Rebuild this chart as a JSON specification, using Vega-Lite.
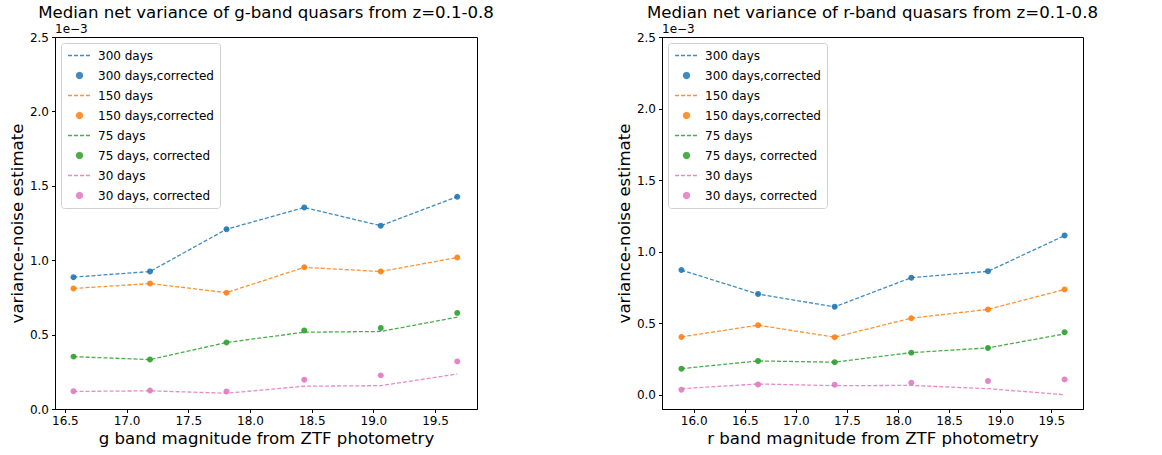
{
  "$schema": "https://vega.github.io/schema/vega-lite/v6.json",
  "padding": {"left": 8, "top": 4, "right": 5, "bottom": 5},
  "config": {
    "font": "DejaVu Sans",
    "view": {"stroke": "black", "strokeWidth": 1},
    "concat": {"spacing": 120},
    "title": {"fontSize": 16.6, "fontWeight": "normal", "color": "black", "offset": 1},
    "axis": {
      "grid": false, "labelFontSize": 12, "titleFontSize": 16.6, "titleFontWeight": "normal",
      "labelColor": "black", "titleColor": "black", "tickColor": "black", "domainColor": "black",
      "tickSize": 3.5, "labelPadding": 3, "titlePadding": 4
    },
    "legend": {
      "orient": "top-left", "offset": 6, "title": null, "labelFontSize": 12, "labelColor": "black",
      "strokeColor": "#d0d0d0", "fillColor": "white", "padding": 6, "cornerRadius": 3,
      "rowPadding": 7, "labelOffset": 12, "symbolStrokeWidth": 1.3, "symbolOffset": 6, "symbolSize": 132
    }
  },
  "data": {"values": [
    {"b":"g","m":16.57,"s":"300 days","v":0.000886},{"b":"g","m":17.19,"s":"300 days","v":0.000924},{"b":"g","m":17.81,"s":"300 days","v":0.001208},{"b":"g","m":18.44,"s":"300 days","v":0.001354},{"b":"g","m":19.06,"s":"300 days","v":0.001232},{"b":"g","m":19.68,"s":"300 days","v":0.001427},
    {"b":"g","m":16.57,"s":"300 days,corrected","v":0.000886},{"b":"g","m":17.19,"s":"300 days,corrected","v":0.000924},{"b":"g","m":17.81,"s":"300 days,corrected","v":0.001208},{"b":"g","m":18.44,"s":"300 days,corrected","v":0.001354},{"b":"g","m":19.06,"s":"300 days,corrected","v":0.001232},{"b":"g","m":19.68,"s":"300 days,corrected","v":0.001427},
    {"b":"g","m":16.57,"s":"150 days","v":0.000810},{"b":"g","m":17.19,"s":"150 days","v":0.000843},{"b":"g","m":17.81,"s":"150 days","v":0.000782},{"b":"g","m":18.44,"s":"150 days","v":0.000952},{"b":"g","m":19.06,"s":"150 days","v":0.000924},{"b":"g","m":19.68,"s":"150 days","v":0.001018},
    {"b":"g","m":16.57,"s":"150 days,corrected","v":0.000810},{"b":"g","m":17.19,"s":"150 days,corrected","v":0.000843},{"b":"g","m":17.81,"s":"150 days,corrected","v":0.000782},{"b":"g","m":18.44,"s":"150 days,corrected","v":0.000952},{"b":"g","m":19.06,"s":"150 days,corrected","v":0.000924},{"b":"g","m":19.68,"s":"150 days,corrected","v":0.001018},
    {"b":"g","m":16.57,"s":"75 days","v":0.000352},{"b":"g","m":17.19,"s":"75 days","v":0.000332},{"b":"g","m":17.81,"s":"75 days","v":0.000447},{"b":"g","m":18.44,"s":"75 days","v":0.000516},{"b":"g","m":19.06,"s":"75 days","v":0.000521},{"b":"g","m":19.68,"s":"75 days","v":0.000617},
    {"b":"g","m":16.57,"s":"75 days, corrected","v":0.000352},{"b":"g","m":17.19,"s":"75 days, corrected","v":0.000332},{"b":"g","m":17.81,"s":"75 days, corrected","v":0.000447},{"b":"g","m":18.44,"s":"75 days, corrected","v":0.000528},{"b":"g","m":19.06,"s":"75 days, corrected","v":0.000544},{"b":"g","m":19.68,"s":"75 days, corrected","v":0.000646},
    {"b":"g","m":16.57,"s":"30 days","v":0.000118},{"b":"g","m":17.19,"s":"30 days","v":0.000122},{"b":"g","m":17.81,"s":"30 days","v":0.000106},{"b":"g","m":18.44,"s":"30 days","v":0.000153},{"b":"g","m":19.06,"s":"30 days","v":0.000157},{"b":"g","m":19.68,"s":"30 days","v":0.000235},
    {"b":"g","m":16.57,"s":"30 days, corrected","v":0.000120},{"b":"g","m":17.19,"s":"30 days, corrected","v":0.000124},{"b":"g","m":17.81,"s":"30 days, corrected","v":0.000118},{"b":"g","m":18.44,"s":"30 days, corrected","v":0.000196},{"b":"g","m":19.06,"s":"30 days, corrected","v":0.000226},{"b":"g","m":19.68,"s":"30 days, corrected","v":0.000320},
    {"b":"r","m":15.88,"s":"300 days","v":0.000871},{"b":"r","m":16.63,"s":"300 days","v":0.000703},{"b":"r","m":17.38,"s":"300 days","v":0.000614},{"b":"r","m":18.13,"s":"300 days","v":0.000818},{"b":"r","m":18.88,"s":"300 days","v":0.000862},{"b":"r","m":19.63,"s":"300 days","v":0.001112},
    {"b":"r","m":15.88,"s":"300 days,corrected","v":0.000871},{"b":"r","m":16.63,"s":"300 days,corrected","v":0.000703},{"b":"r","m":17.38,"s":"300 days,corrected","v":0.000614},{"b":"r","m":18.13,"s":"300 days,corrected","v":0.000818},{"b":"r","m":18.88,"s":"300 days,corrected","v":0.000862},{"b":"r","m":19.63,"s":"300 days,corrected","v":0.001112},
    {"b":"r","m":15.88,"s":"150 days","v":0.000404},{"b":"r","m":16.63,"s":"150 days","v":0.000486},{"b":"r","m":17.38,"s":"150 days","v":0.000402},{"b":"r","m":18.13,"s":"150 days","v":0.000535},{"b":"r","m":18.88,"s":"150 days","v":0.000596},{"b":"r","m":19.63,"s":"150 days","v":0.000736},
    {"b":"r","m":15.88,"s":"150 days,corrected","v":0.000404},{"b":"r","m":16.63,"s":"150 days,corrected","v":0.000486},{"b":"r","m":17.38,"s":"150 days,corrected","v":0.000402},{"b":"r","m":18.13,"s":"150 days,corrected","v":0.000535},{"b":"r","m":18.88,"s":"150 days,corrected","v":0.000596},{"b":"r","m":19.63,"s":"150 days,corrected","v":0.000736},
    {"b":"r","m":15.88,"s":"75 days","v":0.000182},{"b":"r","m":16.63,"s":"75 days","v":0.000236},{"b":"r","m":17.38,"s":"75 days","v":0.000227},{"b":"r","m":18.13,"s":"75 days","v":0.000294},{"b":"r","m":18.88,"s":"75 days","v":0.000327},{"b":"r","m":19.63,"s":"75 days","v":0.000425},
    {"b":"r","m":15.88,"s":"75 days, corrected","v":0.000182},{"b":"r","m":16.63,"s":"75 days, corrected","v":0.000236},{"b":"r","m":17.38,"s":"75 days, corrected","v":0.000227},{"b":"r","m":18.13,"s":"75 days, corrected","v":0.000294},{"b":"r","m":18.88,"s":"75 days, corrected","v":0.000327},{"b":"r","m":19.63,"s":"75 days, corrected","v":0.000437},
    {"b":"r","m":15.88,"s":"30 days","v":0.000042},{"b":"r","m":16.63,"s":"30 days","v":0.000075},{"b":"r","m":17.38,"s":"30 days","v":0.000063},{"b":"r","m":18.13,"s":"30 days","v":0.000065},{"b":"r","m":18.88,"s":"30 days","v":0.000042},{"b":"r","m":19.63,"s":"30 days","v":0.000000},
    {"b":"r","m":15.88,"s":"30 days, corrected","v":0.000035},{"b":"r","m":16.63,"s":"30 days, corrected","v":0.000072},{"b":"r","m":17.38,"s":"30 days, corrected","v":0.000070},{"b":"r","m":18.13,"s":"30 days, corrected","v":0.000084},{"b":"r","m":18.88,"s":"30 days, corrected","v":0.000096},{"b":"r","m":19.63,"s":"30 days, corrected","v":0.000107}
  ]},
  "resolve": {
    "scale": {"x": "independent", "y": "independent", "color": "independent", "shape": "independent", "strokeDash": "independent"},
    "legend": {"color": "independent", "shape": "independent", "strokeDash": "independent"}
  },
  "hconcat": [
    {
      "width": 422, "height": 372,
      "title": "Median net variance of g-band quasars from z=0.1-0.8",
      "encoding": {
        "x": {"field": "m", "type": "quantitative", "scale": {"domain": [16.42, 19.84], "nice": false, "zero": false},
              "axis": {"values": [16.5, 17, 17.5, 18, 18.5, 19, 19.5], "format": ".1f", "title": "g band magnitude from ZTF photometry"}},
        "y": {"field": "v", "type": "quantitative", "scale": {"domain": [0, 0.0025], "nice": false, "zero": false},
              "axis": {"values": [0, 0.0005, 0.001, 0.0015, 0.002, 0.0025], "labelExpr": "format(datum.value * 1000, '.1f')", "title": "variance-noise estimate"}}
      },
      "layer": [
        {
          "transform": [{"filter": "datum.b == 'g' && datum.s == '300 days' && datum.m < 17"}],
          "mark": {"type": "text", "text": "1e\u22123", "align": "left", "baseline": "bottom", "dy": -1, "fontSize": 12, "fill": "black"},
          "encoding": {"x": {"datum": 16.42, "type": "quantitative"}, "y": {"datum": 0.0025, "type": "quantitative"}}
        },
        {
          "transform": [{"filter": "datum.b == 'g' && !test(/corrected/, datum.s)"}],
          "mark": {"type": "line", "strokeWidth": 1.3, "opacity": 0.85},
          "encoding": {
            "color": {"field": "s", "type": "nominal",
              "scale": {"domain": ["300 days", "300 days,corrected", "150 days", "150 days,corrected", "75 days", "75 days, corrected", "30 days", "30 days, corrected"],
                        "range": ["#1f77b4", "#1f77b4", "#ff7f0e", "#ff7f0e", "#2ca02c", "#2ca02c", "#e377c2", "#e377c2"]}},
            "strokeDash": {"field": "s", "type": "nominal",
              "scale": {"domain": ["300 days", "300 days,corrected", "150 days", "150 days,corrected", "75 days", "75 days, corrected", "30 days", "30 days, corrected"],
                        "range": [[4, 2], [1, 0], [4, 2], [1, 0], [4, 2], [1, 0], [4, 2], [1, 0]]}}
          }
        },
        {
          "transform": [{"filter": "datum.b == 'g' && test(/corrected/, datum.s)"}],
          "mark": {"type": "point", "filled": true, "opacity": 0.9, "size": 132},
          "encoding": {
            "color": {"field": "s", "type": "nominal"},
            "shape": {"field": "s", "type": "nominal",
              "scale": {"domain": ["300 days", "300 days,corrected", "150 days", "150 days,corrected", "75 days", "75 days, corrected", "30 days", "30 days, corrected"],
                        "range": ["M-2,0L2,0", "M-0.52,0A0.52,0.52,0,1,1,0.52,0A0.52,0.52,0,1,1,-0.52,0Z", "M-2,0L2,0", "M-0.52,0A0.52,0.52,0,1,1,0.52,0A0.52,0.52,0,1,1,-0.52,0Z", "M-2,0L2,0", "M-0.52,0A0.52,0.52,0,1,1,0.52,0A0.52,0.52,0,1,1,-0.52,0Z", "M-2,0L2,0", "M-0.52,0A0.52,0.52,0,1,1,0.52,0A0.52,0.52,0,1,1,-0.52,0Z"]}}
          }
        }
      ]
    },
    {
      "width": 421, "height": 372,
      "title": "Median net variance of r-band quasars from z=0.1-0.8",
      "encoding": {
        "x": {"field": "m", "type": "quantitative", "scale": {"domain": [15.69, 19.81], "nice": false, "zero": false},
              "axis": {"values": [16, 16.5, 17, 17.5, 18, 18.5, 19, 19.5], "format": ".1f", "title": "r band magnitude from ZTF photometry"}},
        "y": {"field": "v", "type": "quantitative", "scale": {"domain": [-0.0001, 0.0025], "nice": false, "zero": false},
              "axis": {"values": [0, 0.0005, 0.001, 0.0015, 0.002, 0.0025], "labelExpr": "format(datum.value * 1000, '.1f')", "title": "variance-noise estimate"}}
      },
      "layer": [
        {
          "transform": [{"filter": "datum.b == 'r' && datum.s == '300 days' && datum.m < 16"}],
          "mark": {"type": "text", "text": "1e\u22123", "align": "left", "baseline": "bottom", "dy": -1, "fontSize": 12, "fill": "black"},
          "encoding": {"x": {"datum": 15.69, "type": "quantitative"}, "y": {"datum": 0.0025, "type": "quantitative"}}
        },
        {
          "transform": [{"filter": "datum.b == 'r' && !test(/corrected/, datum.s)"}],
          "mark": {"type": "line", "strokeWidth": 1.3, "opacity": 0.85},
          "encoding": {
            "color": {"field": "s", "type": "nominal",
              "scale": {"domain": ["300 days", "300 days,corrected", "150 days", "150 days,corrected", "75 days", "75 days, corrected", "30 days", "30 days, corrected"],
                        "range": ["#1f77b4", "#1f77b4", "#ff7f0e", "#ff7f0e", "#2ca02c", "#2ca02c", "#e377c2", "#e377c2"]}},
            "strokeDash": {"field": "s", "type": "nominal",
              "scale": {"domain": ["300 days", "300 days,corrected", "150 days", "150 days,corrected", "75 days", "75 days, corrected", "30 days", "30 days, corrected"],
                        "range": [[4, 2], [1, 0], [4, 2], [1, 0], [4, 2], [1, 0], [4, 2], [1, 0]]}}
          }
        },
        {
          "transform": [{"filter": "datum.b == 'r' && test(/corrected/, datum.s)"}],
          "mark": {"type": "point", "filled": true, "opacity": 0.9, "size": 132},
          "encoding": {
            "color": {"field": "s", "type": "nominal"},
            "shape": {"field": "s", "type": "nominal",
              "scale": {"domain": ["300 days", "300 days,corrected", "150 days", "150 days,corrected", "75 days", "75 days, corrected", "30 days", "30 days, corrected"],
                        "range": ["M-2,0L2,0", "M-0.52,0A0.52,0.52,0,1,1,0.52,0A0.52,0.52,0,1,1,-0.52,0Z", "M-2,0L2,0", "M-0.52,0A0.52,0.52,0,1,1,0.52,0A0.52,0.52,0,1,1,-0.52,0Z", "M-2,0L2,0", "M-0.52,0A0.52,0.52,0,1,1,0.52,0A0.52,0.52,0,1,1,-0.52,0Z", "M-2,0L2,0", "M-0.52,0A0.52,0.52,0,1,1,0.52,0A0.52,0.52,0,1,1,-0.52,0Z"]}}
          }
        }
      ]
    }
  ]
}
